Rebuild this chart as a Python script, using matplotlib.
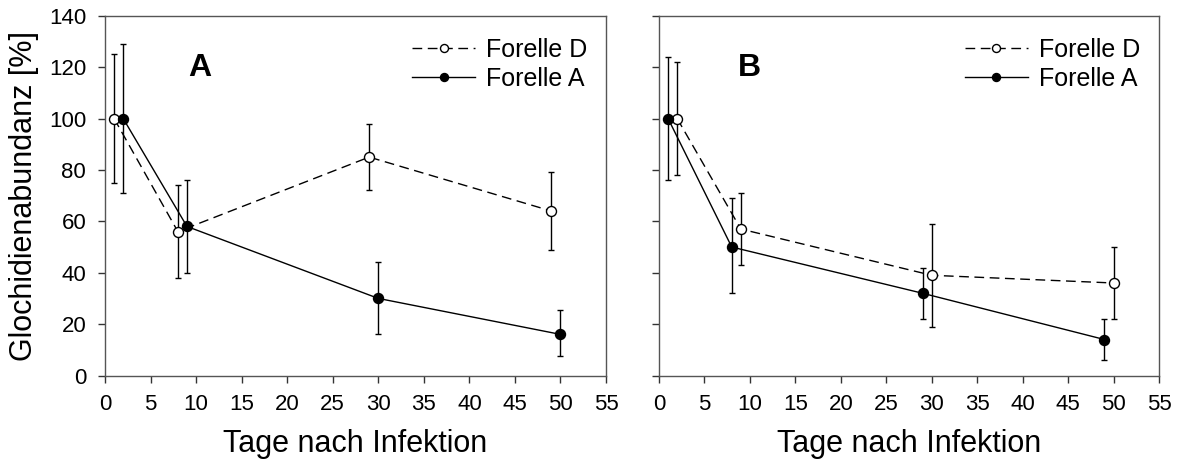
import numpy as np
import matplotlib
matplotlib.use("Agg")
import matplotlib.pyplot as plt

plt.rcParams['font.family'] = ['Liberation Sans', 'DejaVu Sans']

# Panel A
a_d_x = [1, 8, 29, 49]
a_d_y = [100, 56, 85, 64]
a_d_hi = [125, 74, 98, 79]
a_d_lo = [75, 38, 72, 49]

a_a_x = [2, 9, 30, 50]
a_a_y = [100, 58, 30, 16]
a_a_hi = [129, 76, 44, 25.5]
a_a_lo = [71, 40, 16, 7.5]

# Panel B
b_d_x = [2, 9, 30, 50]
b_d_y = [100, 57, 39, 36]
b_d_hi = [122, 71, 59, 50]
b_d_lo = [78, 43, 19, 22]

b_a_x = [1, 8, 29, 49]
b_a_y = [100, 50, 32, 14]
b_a_hi = [124, 69, 42, 22]
b_a_lo = [76, 32, 22, 6]

xticks = np.arange(0, 56, 5)
yticks = np.arange(0, 141, 20)

fig = plt.figure(figsize=(11.77, 4.66), dpi=100)
ax_a = fig.add_axes([0.0892, 0.1942, 0.4257, 0.772])
ax_b = fig.add_axes([0.5599, 0.1942, 0.4248, 0.772])


def draw(ax, dx, dy, dhi, dlo, ax_x, ay, ahi, alo):
    dy = np.array(dy); ay = np.array(ay)
    d_err = [dy - np.array(dlo), np.array(dhi) - dy]
    a_err = [ay - np.array(alo), np.array(ahi) - ay]
    ax.errorbar(dx, dy, yerr=d_err, fmt='none', ecolor='black', elinewidth=1,
                capsize=2.2, capthick=1, zorder=2)
    ax.errorbar(ax_x, ay, yerr=a_err, fmt='none', ecolor='black', elinewidth=1,
                capsize=2.2, capthick=1, zorder=2)
    ax.plot(dx, dy, color='black', lw=1, ls=(0, (7, 4)), marker='o', ms=7.2,
            mfc='white', mec='black', mew=1, label='Forelle D', zorder=3)
    ax.plot(ax_x, ay, color='black', lw=1, ls='-', marker='o', ms=7.2,
            mfc='black', mec='black', label='Forelle A', zorder=3)
    ax.set_xlim(0, 55)
    ax.set_ylim(0, 140)
    ax.set_xticks(xticks)
    ax.set_yticks(yticks)
    ax.tick_params(direction='out', length=5, width=1, labelsize=16, pad=8.5,
                   color='#333333')
    for s in ax.spines.values():
        s.set_color('#555555')
        s.set_linewidth(1)
    ax.set_xlabel('Tage nach Infektion', fontsize=22, labelpad=10)
    ax.legend(loc='upper right', bbox_to_anchor=(1.0, 0.99), frameon=False,
              fontsize=18, handlelength=2.5, handletextpad=0.45,
              labelspacing=0.2, borderaxespad=0.35, markerscale=0.8)


draw(ax_a, a_d_x, a_d_y, a_d_hi, a_d_lo, a_a_x, a_a_y, a_a_hi, a_a_lo)
draw(ax_b, b_d_x, b_d_y, b_d_hi, b_d_lo, b_a_x, b_a_y, b_a_hi, b_a_lo)

ax_a.set_ylabel('Glochidienabundanz [%]', fontsize=22, labelpad=7)
ax_b.tick_params(labelleft=False)

ax_a.text(10.4, 119.5, 'A', fontsize=23, fontweight='bold', ha='center', va='center')
ax_b.text(10.0, 119.5, 'B', fontsize=23, fontweight='bold', ha='center', va='center')

fig.savefig('out.png', dpi=100)
